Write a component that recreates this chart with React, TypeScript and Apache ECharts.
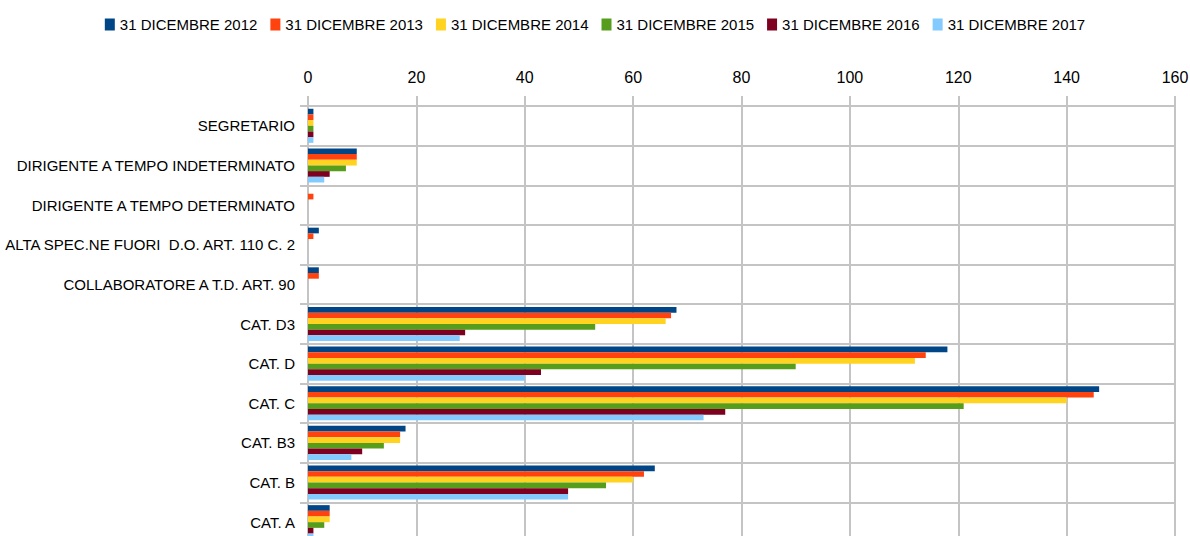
import React, { useEffect, useRef } from "react";
import * as echarts from "echarts";

const categories = [
  "SEGRETARIO",
  "DIRIGENTE A TEMPO INDETERMINATO",
  "DIRIGENTE A TEMPO DETERMINATO",
  "ALTA SPEC.NE FUORI  D.O. ART. 110 C. 2",
  "COLLABORATORE A T.D. ART. 90",
  "CAT. D3",
  "CAT. D",
  "CAT. C",
  "CAT. B3",
  "CAT. B",
  "CAT. A",
];

const seriesNames = [
  "31 DICEMBRE 2012",
  "31 DICEMBRE 2013",
  "31 DICEMBRE 2014",
  "31 DICEMBRE 2015",
  "31 DICEMBRE 2016",
  "31 DICEMBRE 2017",
];

const v2012 = [1, 9, 0, 2, 2, 68, 118, 146, 18, 64, 4];
const v2013 = [1, 9, 1, 1, 2, 67, 114, 145, 17, 62, 4];
const v2014 = [1, 9, 0, 0, 0, 66, 112, 140, 17, 60, 4];
const v2015 = [1, 7, 0, 0, 0, 53, 90, 121, 14, 55, 3];
const v2016 = [1, 4, 0, 0, 0, 29, 43, 77, 10, 48, 1];
const v2017 = [1, 3, 0, 0, 0, 28, 40, 73, 8, 48, 1];

const seriesValues = [v2012, v2013, v2014, v2015, v2016, v2017];
const colors = ["#004586", "#ff420e", "#ffd320", "#579d1c", "#7e0021", "#83caff"];

const FONT = '"Liberation Sans", Arial, sans-serif';
const GRID = "#c4c4c4";

export default function App() {
  const ref = useRef<HTMLDivElement>(null);
  useEffect(() => {
    if (!ref.current) return;
    const chart = echarts.init(ref.current, undefined, { renderer: "svg" });
    chart.setOption({
      animation: false,
      color: colors,
      textStyle: { fontFamily: FONT },
      legend: {
        top: 12,
        left: "center",
        itemWidth: 10,
        itemHeight: 12,
        itemGap: 13,
        icon: "rect",
        textStyle: { fontFamily: FONT, fontSize: 15, color: "#000" },
        data: seriesNames,
      },
      grid: {
        left: 308,
        right: 15,
        top: 106,
        bottom: 18,
        containLabel: false,
        outerBoundsMode: "none",
      },
      xAxis: {
        type: "value",
        position: "top",
        min: 0,
        max: 160,
        interval: 20,
        axisLine: { show: true, lineStyle: { color: GRID, width: 2 } },
        axisTick: { show: true, length: 10, lineStyle: { color: GRID, width: 2 } },
        axisLabel: { fontFamily: FONT, fontSize: 16, color: "#000", margin: 21 },
        splitLine: { show: true, lineStyle: { color: GRID, width: 2 } },
      },
      yAxis: {
        type: "category",
        inverse: true,
        data: categories,
        axisLine: { show: true, lineStyle: { color: GRID, width: 2 } },
        axisTick: { show: true, length: 8, lineStyle: { color: GRID, width: 2 } },
        axisLabel: { fontFamily: FONT, fontSize: 15, color: "#000", margin: 13 },
        splitLine: { show: true, lineStyle: { color: GRID, width: 2 } },
      },
      series: seriesNames.map((name, i) => ({
        name,
        type: "bar",
        data: seriesValues[i],
        barGap: "0%",
        barCategoryGap: "14%",
      })),
    });
    return () => chart.dispose();
  }, []);
  return (
    <div style={{ position: "fixed", left: 0, top: 0, width: 1190, height: 536, overflow: "hidden", background: "#fff" }}>
      <div ref={ref} style={{ width: 1190, height: 560 }} />
    </div>
  );
}
